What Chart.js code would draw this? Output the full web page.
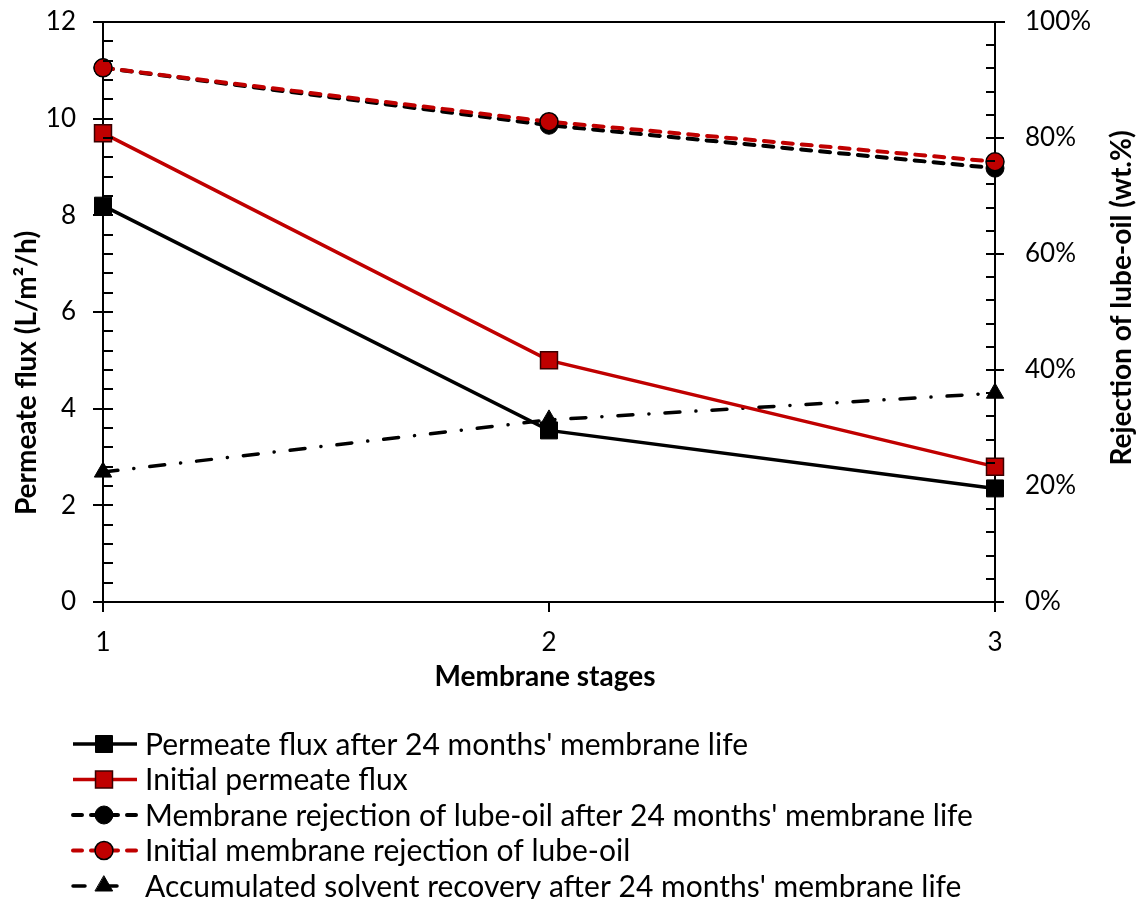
<!DOCTYPE html>
<html>
<head>
<meta charset="utf-8">
<script src="https://cdn.jsdelivr.net/npm/chart.js@4.4.1/dist/chart.umd.min.js"></script>
<style>
  html, body { margin: 0; padding: 0; background: #fff; }
  #wrap { width: 1137px; height: 899px; }
</style>
</head>
<body>
<div id="wrap"><canvas id="chart" width="1137" height="899"></canvas></div>
<script>
// data
const stages = ['1', '2', '3'];
const fluxAfter24 = [8.2, 3.55, 2.35];          // L/m2/h
const fluxInitial = [9.7, 5.0, 2.8];            // L/m2/h
const rejectionAfter24 = [92.1, 82.2, 74.8];    // %
const rejectionInitial = [92.1, 82.8, 75.9];    // %
const recoveryAfter24 = [22.4, 31.4, 36.0];     // %
const leftTicks = [0, 2, 4, 6, 8, 10, 12];
const rightTicks = [0, 20, 40, 60, 80, 100];
const seriesNames = [
  "Permeate flux after 24 months' membrane life",
  "Initial permeate flux",
  "Membrane rejection of lube-oil after 24 months' membrane life",
  "Initial membrane rejection of lube-oil",
  "Accumulated solvent recovery after 24 months' membrane life"
];

const RED = '#C00000';
const FONT = 'Lato, "Open Sans", sans-serif';

// frame, tick marks, axis titles and legend
const decorations = {
  id: 'decorations',
  afterDraw(chart) {
    const ctx = chart.ctx;
    const a = chart.chartArea;
    const x = chart.scales.x, yl = chart.scales.y, yr = chart.scales.y2;
    ctx.save();
    ctx.strokeStyle = '#000';
    ctx.lineWidth = 2;
    ctx.setLineDash([]);
    ctx.beginPath();
    // top border
    ctx.moveTo(a.left - 10, a.top); ctx.lineTo(a.right + 10, a.top);
    // left axis ticks
    for (let v = 0; v <= 12.001; v += 0.4) {
      const py = Math.round(yl.getPixelForValue(v));
      const major = Math.abs(v / 2 - Math.round(v / 2)) < 1e-6;
      ctx.moveTo(a.left - (major ? 10 : 0), py); ctx.lineTo(a.left + 10, py);
    }
    // right axis ticks
    for (let v = 0; v <= 100.001; v += 4) {
      const py = Math.round(yr.getPixelForValue(v));
      const major = Math.abs(v / 20 - Math.round(v / 20)) < 1e-6;
      ctx.moveTo(a.right - 9, py); ctx.lineTo(a.right + (major ? 9 : 0), py);
    }
    // category ticks
    stages.forEach((s, i) => {
      const px = Math.round(x.getPixelForValue(i));
      ctx.moveTo(px, a.bottom); ctx.lineTo(px, a.bottom + 10);
    });
    ctx.stroke();

    // axis titles
    ctx.fillStyle = '#000';
    ctx.font = 'bold 28px ' + FONT;
    ctx.textAlign = 'center';
    ctx.textBaseline = 'middle';
    ctx.fillText('Membrane stages', (a.left + a.right) / 2 - 4, 677);
    ctx.save();
    ctx.translate(27, 373);
    ctx.rotate(-Math.PI / 2);
    ctx.fillText('Permeate flux (L/m\u00B2/h)', 0, 0);
    ctx.restore();
    ctx.save();
    ctx.translate(1122, 298);
    ctx.rotate(-Math.PI / 2);
    ctx.fillText('Rejection of lube-oil (wt.%)', 0, 0);
    ctx.restore();

    // legend
    ctx.font = '30px ' + FONT;
    ctx.textAlign = 'left';
    chart.data.datasets.forEach((ds, i) => {
      const cy = 744 + i * 35.5;
      ctx.save();
      ctx.strokeStyle = ds.borderColor;
      ctx.lineWidth = ds.borderWidth;
      ctx.lineCap = ds.borderCapStyle || 'butt';
      ctx.setLineDash(ds.legendDash || []);
      ctx.beginPath();
      ctx.moveTo(73, cy); ctx.lineTo(137, cy);
      ctx.stroke();
      ctx.setLineDash([]);
      ctx.fillStyle = ds.pointBackgroundColor;
      ctx.strokeStyle = ds.pointBorderColor;
      ctx.lineWidth = ds.pointBorderWidth;
      Chart.helpers.drawPoint(ctx, {
        pointStyle: ds.pointStyle, rotation: 0,
        radius: ds.pointRadius, borderWidth: ds.pointBorderWidth
      }, 104, cy);
      ctx.restore();
      ctx.fillStyle = '#000';
      ctx.fillText(ds.label, 145, cy + 1);
    });
    ctx.restore();
  }
};

const noPad = s => { s.paddingTop = 0; s.paddingBottom = 0; };

new Chart(document.getElementById('chart'), {
  type: 'line',
  data: {
    labels: stages,
    datasets: [
      {
        label: seriesNames[0], data: fluxAfter24, yAxisID: 'y', order: 0,
        borderColor: '#000', borderWidth: 3.5,
        pointStyle: 'rect', pointRadius: 12, pointBackgroundColor: '#000',
        pointBorderColor: '#000', pointBorderWidth: 1
      },
      {
        label: seriesNames[1], data: fluxInitial, yAxisID: 'y', order: 1,
        borderColor: RED, borderWidth: 3.5,
        pointStyle: 'rect', pointRadius: 12, pointBackgroundColor: RED,
        pointBorderColor: '#3a0000', pointBorderWidth: 1.5
      },
      {
        label: seriesNames[2], data: rejectionAfter24, yAxisID: 'y2', order: 3,
        borderColor: '#000', borderWidth: 4, borderCapStyle: 'round',
        borderDash: [10, 9], legendDash: [9, 9],
        pointStyle: 'circle', pointRadius: 9, pointBackgroundColor: '#000',
        pointBorderColor: '#000', pointBorderWidth: 1
      },
      {
        label: seriesNames[3], data: rejectionInitial, yAxisID: 'y2', order: 2,
        borderColor: RED, borderWidth: 4, borderCapStyle: 'round',
        borderDash: [10, 9], legendDash: [9, 9],
        pointStyle: 'circle', pointRadius: 9, pointBackgroundColor: RED,
        pointBorderColor: '#000', pointBorderWidth: 1.5
      },
      {
        label: seriesNames[4], data: recoveryAfter24, yAxisID: 'y2', order: 4,
        borderColor: '#000', borderWidth: 3.5, borderCapStyle: 'round',
        borderDash: [15, 16, 0.1, 16], legendDash: [12, 20],
        pointStyle: 'triangle', pointRadius: 10, pointBackgroundColor: '#000',
        pointBorderColor: '#000', pointBorderWidth: 1
      }
    ]
  },
  options: {
    responsive: false,
    animation: false,
    devicePixelRatio: 1,
    layout: { padding: { top: 22, left: 0, right: 0, bottom: 0 } },
    plugins: { legend: { display: false }, tooltip: { enabled: false } },
    elements: { line: { tension: 0 } },
    scales: {
      x: {
        type: 'category', offset: false,
        grid: { drawOnChartArea: false, drawTicks: false },
        border: { display: true, color: '#000', width: 2 },
        ticks: { color: '#000', font: { family: FONT, size: 26 }, padding: 25 },
        afterFit: s => { s.height = 297; s.paddingLeft = 0; s.paddingRight = 0; }
      },
      y: {
        position: 'left', min: 0, max: 12,
        afterBuildTicks: s => { s.ticks = leftTicks.map(v => ({ value: v })); },
        grid: { drawOnChartArea: false, drawTicks: false },
        border: { display: true, color: '#000', width: 2 },
        ticks: { color: '#000', font: { family: FONT, size: 26 }, padding: 27 },
        afterFit: s => { s.width = 103; noPad(s); }
      },
      y2: {
        position: 'right', min: 0, max: 100,
        afterBuildTicks: s => { s.ticks = rightTicks.map(v => ({ value: v })); },
        grid: { drawOnChartArea: false, drawTicks: false },
        border: { display: true, color: '#000', width: 2 },
        ticks: { color: '#000', font: { family: FONT, size: 26 }, padding: 30,
                 callback: v => v + '%' },
        afterFit: s => { s.width = 142; noPad(s); }
      }
    }
  },
  plugins: [decorations]
});
</script>
</body>
</html>
